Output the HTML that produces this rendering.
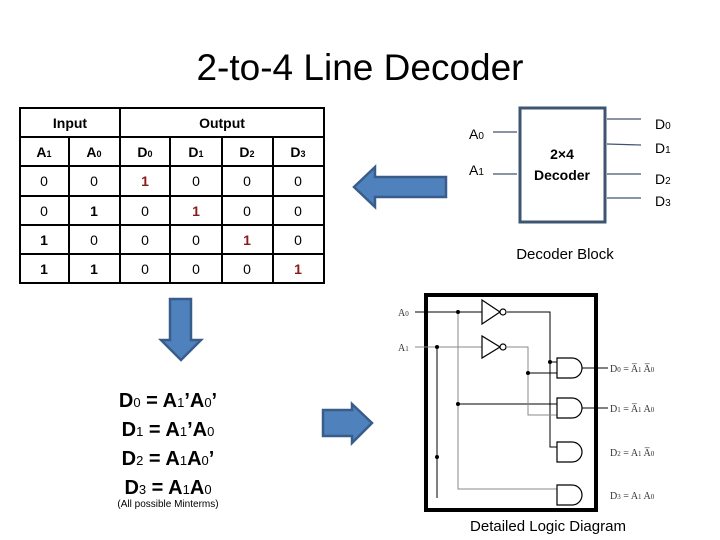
<!DOCTYPE html>
<html><head><meta charset="utf-8"><style>
body{margin:0;background:#fff;}
svg{display:block;font-family:"Liberation Sans",sans-serif;}
</style></head><body>
<svg width="720" height="540" viewBox="0 0 720 540" xmlns="http://www.w3.org/2000/svg">
<text x="360" y="80" font-size="37" text-anchor="middle" fill="#000">2-to-4 Line Decoder</text>

<!-- table -->
<g stroke="#000" stroke-width="2" fill="none">
<rect x="20" y="108" width="304" height="175"/>
<line x1="20" y1="137" x2="324" y2="137"/>
<line x1="20" y1="166" x2="324" y2="166"/>
<line x1="20" y1="196" x2="324" y2="196"/>
<line x1="20" y1="225" x2="324" y2="225"/>
<line x1="20" y1="254" x2="324" y2="254"/>
<line x1="120" y1="108" x2="120" y2="283"/>
<line x1="69" y1="137" x2="69" y2="283"/>
<line x1="170" y1="137" x2="170" y2="283"/>
<line x1="222" y1="137" x2="222" y2="283"/>
<line x1="273" y1="137" x2="273" y2="283"/>
</g>
<g font-size="14" text-anchor="middle" font-weight="bold">
<text x="70" y="128">Input</text><text x="222" y="128">Output</text>
<text x="44" y="157">A<tspan font-size="9">1</tspan></text>
<text x="94" y="157">A<tspan font-size="9">0</tspan></text>
<text x="145" y="157">D<tspan font-size="9">0</tspan></text>
<text x="196" y="157">D<tspan font-size="9">1</tspan></text>
<text x="247" y="157">D<tspan font-size="9">2</tspan></text>
<text x="298" y="157">D<tspan font-size="9">3</tspan></text>
</g>
<g font-size="14" text-anchor="middle">
<text x="44" y="186">0</text><text x="94" y="186">0</text><text x="145" y="186" fill="#8b1a1a" font-weight="bold">1</text><text x="196" y="186">0</text><text x="247" y="186">0</text><text x="298" y="186">0</text>
<text x="44" y="216">0</text><text x="94" y="216" font-weight="bold">1</text><text x="145" y="216">0</text><text x="196" y="216" fill="#8b1a1a" font-weight="bold">1</text><text x="247" y="216">0</text><text x="298" y="216">0</text>
<text x="44" y="245" font-weight="bold">1</text><text x="94" y="245">0</text><text x="145" y="245">0</text><text x="196" y="245">0</text><text x="247" y="245" fill="#8b1a1a" font-weight="bold">1</text><text x="298" y="245">0</text>
<text x="44" y="274" font-weight="bold">1</text><text x="94" y="274" font-weight="bold">1</text><text x="145" y="274">0</text><text x="196" y="274">0</text><text x="247" y="274">0</text><text x="298" y="274" fill="#8b1a1a" font-weight="bold">1</text>
</g>

<!-- arrows -->
<g fill="#4f81bd" stroke="#385d8a" stroke-width="2.5" stroke-linejoin="miter">
<polygon points="446,177 375,177 375,167 354,187 375,207 375,197 446,197"/>
<polygon points="170,299 191,299 191,340 201,340 181,360 161,340 170,340"/>
<polygon points="323,410 352,410 352,404 372,423 352,443 352,436 323,436"/>
</g>

<!-- equations -->
<g font-size="20" font-weight="bold" text-anchor="middle">
<text x="168" y="407">D<tspan font-size="13" font-weight="normal">0</tspan> = A<tspan font-size="13" font-weight="normal">1</tspan>’A<tspan font-size="13" font-weight="normal">0</tspan>’</text>
<text x="168" y="436">D<tspan font-size="13" font-weight="normal">1</tspan> = A<tspan font-size="13" font-weight="normal">1</tspan>’A<tspan font-size="13" font-weight="normal">0</tspan></text>
<text x="168" y="465">D<tspan font-size="13" font-weight="normal">2</tspan> = A<tspan font-size="13" font-weight="normal">1</tspan>A<tspan font-size="13" font-weight="normal">0</tspan>’</text>
<text x="168" y="494">D<tspan font-size="13" font-weight="normal">3</tspan> = A<tspan font-size="13" font-weight="normal">1</tspan>A<tspan font-size="13" font-weight="normal">0</tspan></text>
</g>
<text x="168" y="507" font-size="10" text-anchor="middle">(All possible Minterms)</text>

<!-- decoder block -->
<rect x="520" y="108" width="85" height="114" fill="none" stroke="#3d5570" stroke-width="3"/>
<g stroke="#3d5570" stroke-width="1.2">
<line x1="493" y1="132" x2="517" y2="132"/>
<line x1="493" y1="174" x2="517" y2="174"/>
<line x1="607" y1="119" x2="641" y2="119"/>
<line x1="607" y1="144" x2="641" y2="145"/>
<line x1="607" y1="174" x2="641" y2="174"/>
<line x1="607" y1="198" x2="641" y2="198"/>
</g>
<g font-size="14">
<text x="469" y="139">A<tspan font-size="10">0</tspan></text>
<text x="469" y="175">A<tspan font-size="10">1</tspan></text>
<text x="655" y="129">D<tspan font-size="10">0</tspan></text>
<text x="655" y="153">D<tspan font-size="10">1</tspan></text>
<text x="655" y="184">D<tspan font-size="10">2</tspan></text>
<text x="655" y="206">D<tspan font-size="10">3</tspan></text>
</g>
<g font-size="14" font-weight="bold" text-anchor="middle">
<text x="562" y="159">2×4</text><text x="562" y="180">Decoder</text>
</g>
<text x="565" y="259" font-size="15" text-anchor="middle">Decoder Block</text>

<!-- logic diagram -->
<rect x="426" y="295" width="170" height="215" fill="none" stroke="#000" stroke-width="4"/>
<g stroke="#000" stroke-width="1" fill="none">
<line x1="415" y1="312" x2="482" y2="312"/>
<polyline points="507,312 550,312 550,447 557,447"/>
<line x1="550" y1="362" x2="557" y2="362"/>
<line x1="458" y1="404" x2="557" y2="404"/>
<line x1="437" y1="347" x2="437" y2="498"/>
<line x1="528" y1="373" x2="557" y2="373"/>
</g>
<g stroke="#888" stroke-width="1" fill="none">
<line x1="415" y1="347" x2="482" y2="347"/>
<polyline points="507,347 528,347 528,415 557,415"/>
<polyline points="458,312 458,489 557,489"/>
</g>
<g fill="#fff" stroke="#000" stroke-width="1.2">
<polygon points="482,300 482,324 500,312"/><circle cx="503" cy="312" r="3"/>
<polygon points="482,336 482,358 500,347"/><circle cx="503" cy="347" r="3"/>
<path d="M557,358 H572 A10,10 0 0 1 572,378 H557 Z"/>
<path d="M557,398 H572 A10,10 0 0 1 572,418 H557 Z"/>
<path d="M557,442 H572 A10,10 0 0 1 572,462 H557 Z"/>
<path d="M557,485 H572 A10,10 0 0 1 572,505 H557 Z"/>
</g>
<g stroke="#000" stroke-width="1">
<line x1="582" y1="368" x2="608" y2="368"/>
<line x1="582" y1="408" x2="608" y2="408"/>
</g>
<g fill="#000">
<circle cx="458" cy="312" r="2"/><circle cx="437" cy="347" r="2"/>
<circle cx="550" cy="362" r="2"/><circle cx="528" cy="373" r="2"/>
<circle cx="458" cy="404" r="2"/><circle cx="437" cy="457" r="2"/>
</g>
<g font-family="Liberation Serif,serif" font-size="10" fill="#333">
<text x="398" y="316">A<tspan font-size="7">0</tspan></text>
<text x="398" y="351">A<tspan font-size="7">1</tspan></text>
<text x="610" y="372">D<tspan font-size="7">0</tspan> = A̅<tspan font-size="7">1</tspan> A̅<tspan font-size="7">0</tspan></text>
<text x="610" y="412">D<tspan font-size="7">1</tspan> = A̅<tspan font-size="7">1</tspan> A<tspan font-size="7">0</tspan></text>
<text x="610" y="456">D<tspan font-size="7">2</tspan> = A<tspan font-size="7">1</tspan> A̅<tspan font-size="7">0</tspan></text>
<text x="610" y="499">D<tspan font-size="7">3</tspan> = A<tspan font-size="7">1</tspan> A<tspan font-size="7">0</tspan></text>
</g>
<text x="548" y="531" font-size="15" text-anchor="middle">Detailed Logic Diagram</text>
</svg>
</body></html>
